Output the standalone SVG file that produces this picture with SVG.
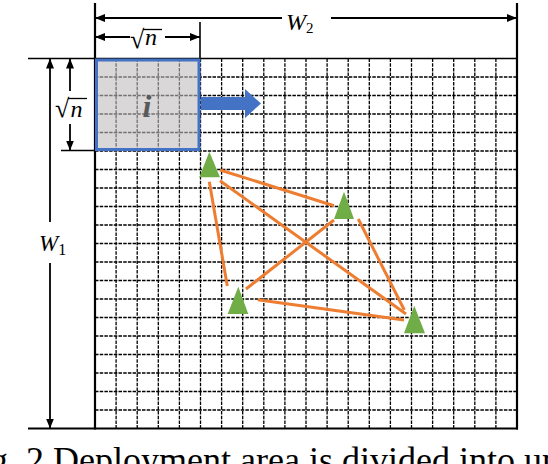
<svg xmlns="http://www.w3.org/2000/svg" width="548" height="464" viewBox="0 0 548 464">
<style>
.grid{fill:none;stroke:#000;stroke-width:1.3;stroke-dasharray:3.5 1.2}
.solid{stroke:#000;stroke-width:2.2;fill:none}
.thin{stroke:#000;stroke-width:1.6;fill:none}
.dim{stroke:#000;stroke-width:1.8;fill:none}
.edge{stroke:#ed7d31;stroke-width:3;stroke-linecap:butt}
.tri{fill:#70ad47}
.math{font-family:"Liberation Serif","DejaVu Serif",serif;fill:#000}
</style>
<defs>
<marker id="ah" markerUnits="userSpaceOnUse" markerWidth="11" markerHeight="8" refX="10" refY="4" orient="auto-start-reverse">
<path d="M0,0 L10,4 L0,8 z" fill="#000"/>
</marker>
</defs>
<g id="field">
<path class="grid" d="M116.1,58.5V428.5M137.2,58.5V428.5M158.3,58.5V428.5M179.4,58.5V428.5M200.5,58.5V428.5M221.6,58.5V428.5M242.7,58.5V428.5M263.8,58.5V428.5M284.9,58.5V428.5M306,58.5V428.5M327.1,58.5V428.5M348.2,58.5V428.5M369.3,58.5V428.5M390.4,58.5V428.5M411.5,58.5V428.5M432.6,58.5V428.5M453.7,58.5V428.5M474.8,58.5V428.5M495.9,58.5V428.5M95,77H517M95,95.5H517M95,114H517M95,132.5H517M95,151H517M95,169.5H517M95,188H517M95,206.5H517M95,225H517M95,243.5H517M95,262H517M95,280.5H517M95,299H517M95,317.5H517M95,336H517M95,354.5H517M95,373H517M95,391.5H517M95,410H517"/>
<line class="solid" x1="95" y1="3" x2="95" y2="429.5"/>
<line class="solid" x1="517" y1="3" x2="517" y2="429.5"/>
<line class="thin" x1="28" y1="58.5" x2="517" y2="58.5"/>
<line class="solid" x1="28" y1="428.5" x2="518" y2="428.5"/>
<line class="thin" x1="61" y1="150.5" x2="95" y2="150.5"/>
<line class="thin" x1="200" y1="22" x2="200" y2="58.5"/>
</g>
<g id="cell-i">
<rect x="96.5" y="60" width="102.5" height="89.5" fill="#bfbcbd" fill-opacity="0.6" stroke="none"/>
<rect x="96.5" y="60" width="102.5" height="89.5" fill="none" stroke="#4472c4" stroke-width="3"/>
<text x="147" y="117" text-anchor="middle" font-family="Liberation Serif,DejaVu Serif,serif" font-style="italic" font-weight="bold" font-size="32" fill="#595959">i</text>
</g>
<g id="move-arrow">
<polygon points="201,97 245,97 245,89 261,103.5 245,118 245,110 201,110" fill="#4472c4"/>
</g>
<g id="dimensions">
<line class="dim" x1="95" y1="18" x2="282" y2="18" marker-start="url(#ah)"/>
<line class="dim" x1="331" y1="18" x2="517" y2="18" marker-end="url(#ah)"/>
<text class="math" x="286" y="30" font-size="24" font-style="italic">W<tspan font-style="normal" font-size="15" dy="3">2</tspan></text>
<line class="dim" x1="95" y1="37" x2="130" y2="37" marker-start="url(#ah)"/>
<line class="dim" x1="165" y1="37" x2="200" y2="37" marker-end="url(#ah)"/>
<text class="math" x="130" y="48" font-size="26">√</text>
<line x1="143" y1="29.5" x2="162" y2="29.5" stroke="#000" stroke-width="1.3"/>
<text class="math" x="145" y="45" font-size="24" font-style="italic">n</text>
<line class="dim" x1="50" y1="58.5" x2="50" y2="222" marker-start="url(#ah)"/>
<line class="dim" x1="50" y1="263" x2="50" y2="428.5" marker-end="url(#ah)"/>
<text class="math" x="39" y="251" font-size="23" font-style="italic">W<tspan font-style="normal" font-size="16" dy="4">1</tspan></text>
<line class="dim" x1="70" y1="58.5" x2="70" y2="91" marker-start="url(#ah)"/>
<line class="dim" x1="70" y1="124" x2="70" y2="150.5" marker-end="url(#ah)"/>
<text class="math" x="55" y="117" font-size="26">√</text>
<line x1="68" y1="98.5" x2="87" y2="98.5" stroke="#000" stroke-width="1.3"/>
<text class="math" x="70.5" y="117" font-size="24" font-style="italic">n</text>
</g>
<g id="connectors">
<line class="edge" x1="220" y1="170" x2="334" y2="205.7"/>
<line class="edge" x1="220" y1="180.7" x2="406" y2="314"/>
<line class="edge" x1="209.3" y1="181.7" x2="227.3" y2="286"/>
<line class="edge" x1="334" y1="220" x2="246" y2="289"/>
<line class="edge" x1="358.3" y1="219" x2="404.3" y2="310"/>
<line class="edge" x1="257.7" y1="299.7" x2="404" y2="320"/>
</g>
<g id="node-1"><polygon class="tri" points="209.3,151.7 220,177.3 199.3,177.3"/></g>
<g id="node-2"><polygon class="tri" points="344,191.7 354,219 334,219"/></g>
<g id="node-3"><polygon class="tri" points="238.3,286.7 248.3,314 227.7,314"/></g>
<g id="node-4"><polygon class="tri" points="414.3,305.7 425,333.3 404,333.3"/></g>
<g id="caption">
<text x="-40" y="472" font-family="Liberation Serif,serif" font-size="36" fill="#000">Fig. 2 Deployment area is divided into unit grids (l</text>
</g>
</svg>
